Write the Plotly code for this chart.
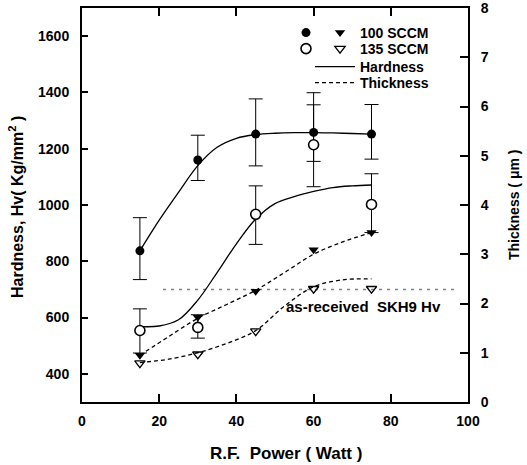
import plotly.graph_objects as go

# ---------------- data ----------------
power = [15, 30, 45, 60, 75]

hv_100 = [837, 1160, 1252, 1258, 1252]
hv_100_err_plus = [118, 88, 125, 141, 105]
hv_100_err_minus = [102, 73, 113, 103, 89]

hv_135 = [554, 565, 967, 1214, 1002]
hv_135_err_plus = [77, 45, 101, 142, 109]
hv_135_err_minus = [80, 38, 107, 149, 100]

th_100 = [0.95, 1.72, 2.25, 3.09, 3.44]
th_135 = [0.79, 0.97, 1.44, 2.30, 2.30]

# fitted curves
fit_hv_x = [15, 20, 25, 30, 35, 40, 45, 50, 55, 60, 65, 70, 75]
fit_hv_100 = [837, 946, 1045, 1140, 1205, 1237, 1250, 1255, 1257, 1257, 1256, 1254, 1252]
fit_hv_135 = [568, 570, 592, 662, 760, 862, 950, 1005, 1030, 1048, 1062, 1068, 1071]

fit_th_x = [15, 22.5, 30, 37.5, 45, 52.5, 60, 67.5, 75]
fit_th_100 = [0.95, 1.33, 1.70, 1.98, 2.27, 2.63, 3.00, 3.25, 3.44]
fit_th_135 = [0.80, 0.87, 1.00, 1.19, 1.45, 1.95, 2.34, 2.48, 2.50]

asrec_hv = 700
asrec_x = [21, 97]
asrec_label = "as-received&nbsp;&nbsp;SKH9 Hv"

x_ticks = [0, 20, 40, 60, 80, 100]
y_ticks = [400, 600, 800, 1000, 1200, 1400, 1600]
y2_ticks = [0, 1, 2, 3, 4, 5, 6, 7, 8]

FONT = "Liberation Sans, Arial, sans-serif"
BLACK = "black"

fig = go.Figure()

# as-received reference line
fig.add_trace(go.Scatter(x=asrec_x, y=[asrec_hv, asrec_hv], mode="lines",
                         line=dict(color="#808080", width=1.5, dash="3px,5px"),
                         showlegend=False, hoverinfo="skip"))

# fitted hardness curves
fig.add_trace(go.Scatter(x=fit_hv_x, y=fit_hv_100, mode="lines", line_shape="spline",
                         line=dict(color=BLACK, width=1.3), name="Hardness",
                         legend="legend5", showlegend=True))
fig.add_trace(go.Scatter(x=fit_hv_x, y=fit_hv_135, mode="lines", line_shape="spline",
                         line=dict(color=BLACK, width=1.3), showlegend=False))

# fitted thickness curves
fig.add_trace(go.Scatter(x=fit_th_x, y=fit_th_100, mode="lines", line_shape="spline", yaxis="y2",
                         line=dict(color=BLACK, width=1.3, dash="4px,3px"), name="Thickness",
                         legend="legend6", showlegend=True))
fig.add_trace(go.Scatter(x=fit_th_x, y=fit_th_135, mode="lines", line_shape="spline", yaxis="y2",
                         line=dict(color=BLACK, width=1.3, dash="4px,3px"), showlegend=False))

# error bars (separate so legend symbols stay plain)
fig.add_trace(go.Scatter(x=power, y=hv_100, mode="markers", marker=dict(size=1, color=BLACK),
                         error_y=dict(type="data", array=hv_100_err_plus, arrayminus=hv_100_err_minus,
                                      color=BLACK, thickness=1, width=7),
                         showlegend=False))
fig.add_trace(go.Scatter(x=power, y=hv_135, mode="markers", marker=dict(size=1, color=BLACK),
                         error_y=dict(type="data", array=hv_135_err_plus, arrayminus=hv_135_err_minus,
                                      color=BLACK, thickness=1, width=7),
                         showlegend=False))

# thickness markers
fig.add_trace(go.Scatter(x=power, y=th_100, mode="markers", yaxis="y2", name="100 SCCM",
                         marker=dict(symbol="triangle-down", size=9, color=BLACK),
                         legend="legend3"))
fig.add_trace(go.Scatter(x=power, y=th_135, mode="markers", yaxis="y2", name="135 SCCM",
                         marker=dict(symbol="triangle-down-open", size=9, color=BLACK,
                                     line=dict(width=1.3)),
                         legend="legend4"))

# hardness markers
fig.add_trace(go.Scatter(x=power, y=hv_100, mode="markers", name=" ",
                         marker=dict(symbol="circle", size=9, color=BLACK),
                         legend="legend"))
fig.add_trace(go.Scatter(x=power, y=hv_135, mode="markers", name=" ",
                         marker=dict(symbol="circle", size=10, color="white",
                                     line=dict(color=BLACK, width=1.6)),
                         legend="legend2"))

L, R, T, B = 82, 468, 8, 402
W, H = 527, 465


def px(xp):
    return (xp - L) / (R - L)


def py(yp):
    return (B - yp) / (B - T)


tickfont = dict(family=FONT, size=14, color=BLACK, weight="bold")
legfont = dict(family=FONT, size=14, color=BLACK, weight="bold")


def leg(xp, yp, itemwidth=30):
    return dict(x=px(xp), y=py(yp), xanchor="left", yanchor="middle",
                bgcolor="rgba(0,0,0,0)", borderwidth=0, font=legfont,
                itemwidth=itemwidth, itemclick=False, itemdoubleclick=False)


fig.update_layout(
    width=W, height=H,
    margin=dict(l=L, r=W - R, t=T, b=H - B),
    paper_bgcolor="white", plot_bgcolor="white",
    font=dict(family=FONT, color=BLACK),
    xaxis=dict(range=[0, 100], tickvals=x_ticks, ticks="inside", ticklen=8, tickwidth=1.5,
               tickcolor=BLACK, showline=True, linewidth=2, linecolor=BLACK, mirror="ticks",
               showgrid=False, zeroline=False, tickfont=tickfont, ticklabelstandoff=5,
               automargin=False, ticklabeloverflow="allow"),
    yaxis=dict(range=[300, 1700], tickvals=y_ticks, ticks="inside", ticklen=6, tickwidth=1.5,
               tickcolor=BLACK, showline=True, linewidth=2, linecolor=BLACK,
               showgrid=False, zeroline=False, tickfont=tickfont, ticklabelstandoff=8,
               automargin=False, ticklabeloverflow="allow"),
    yaxis2=dict(range=[0, 8], tickvals=y2_ticks, ticks="inside", ticklen=8, tickwidth=1.5,
                tickcolor=BLACK, showline=True, linewidth=2, linecolor=BLACK,
                overlaying="y", side="right", showgrid=False, zeroline=False,
                tickfont=tickfont, ticklabelstandoff=8, automargin=False,
                ticklabeloverflow="allow"),
    legend=leg(286, 33),
    legend2=leg(286, 49),
    legend3=leg(320, 33),
    legend4=leg(320, 49),
    legend5=leg(310, 67, 40),
    legend6=leg(310, 83, 40),
    annotations=[
        dict(text=asrec_label, x=73, y=asrec_hv, yshift=-17, xref="x", yref="y",
             showarrow=False, font=dict(family=FONT, size=15, color=BLACK, weight="bold")),
        dict(text="R.F.&nbsp;&nbsp;Power (&nbsp;Watt&nbsp;)", x=px(286), y=py(453),
             xref="paper", yref="paper",
             showarrow=False, xanchor="center", yanchor="middle",
             font=dict(family=FONT, size=17, color=BLACK, weight="bold")),
        dict(text="Hardness, Hv( Kg/mm<sup>2</sup> )", x=px(16), y=py(207), xref="paper", yref="paper",
             showarrow=False, xanchor="center", yanchor="middle", textangle=-90,
             font=dict(family=FONT, size=16, color=BLACK, weight="bold")),
        dict(text="Thickness ( μm )", x=px(514), y=py(205), xref="paper", yref="paper",
             showarrow=False, xanchor="center", yanchor="middle", textangle=-90,
             font=dict(family=FONT, size=14, color=BLACK, weight="bold")),
    ],
)

fig.write_html("out.html", config={"displayModeBar": False},
               post_script="document.body.style.margin='0px';document.body.style.padding='0px';")
